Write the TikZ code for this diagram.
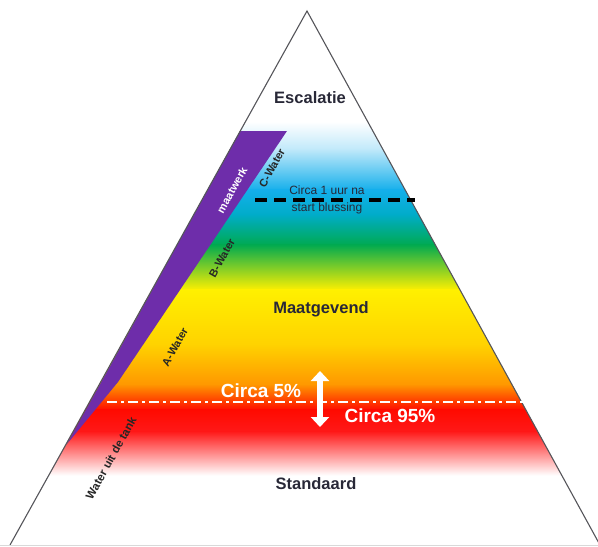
\documentclass[tikz,border=0pt]{standalone}
\usepackage{fontspec}
\setmainfont{Liberation Sans}
\usepackage{tikz}
\usetikzlibrary{arrows.meta,positioning}
\definecolor{pyrline}{RGB}{85,85,90}
\definecolor{pyrtext}{RGB}{40,40,55}
\definecolor{pyrpurple}{RGB}{110,45,170}
\definecolor{lichtblauw}{RGB}{190,232,250}
\definecolor{hemelblauw}{RGB}{20,175,235}
\definecolor{blauwgroen}{RGB}{0,172,200}
\definecolor{groen}{RGB}{0,170,80}
\definecolor{geel}{RGB}{255,240,0}
\definecolor{donkergeel}{RGB}{255,210,0}
\definecolor{oranje}{RGB}{255,150,0}
\definecolor{rood}{RGB}{255,10,0}
\definecolor{rood2}{RGB}{255,25,25}
\tikzset{
  laag/.style={font=\bfseries\fontsize{16.5}{18}\selectfont,text=pyrtext},
  waterlbl/.style={font=\bfseries\fontsize{11}{12}\selectfont,rotate=61,text=black!85},
  pct/.style={font=\bfseries\fontsize{19}{21}\selectfont,text=white},
  klein/.style={font=\fontsize{12}{13}\selectfont,text=pyrtext,inner sep=0pt}
}

\begin{document}
\begin{tikzpicture}[x=1pt,y=-1pt,>=Stealth]
  \useasboundingbox (0,0) rectangle (598,547);
  \coordinate (top) at (307,11);
  \coordinate (bl) at (10,545);
  \coordinate (br) at (600,545);
  % kleurverloop in de piramide
  \begin{scope}
    \clip (top)--(bl)--(br)--cycle;
    \foreach \ya/\yb/\ca/\cb in {122/150/white/lichtblauw,150/190/lichtblauw/hemelblauw,
        190/215/hemelblauw/blauwgroen,215/245/blauwgroen/groen,245/290/groen/geel,
        290/345/geel/donkergeel,345/385/donkergeel/oranje,385/410/oranje/rood,
        410/432/rood/rood2,432/475/rood2/white}
      \shade[top color=\ca,bottom color=\cb] (0,\ya-0.5) rectangle (598,\yb+0.5);
  \end{scope}
  % maatwerk strook
  \fill[pyrpurple] (240,131) -- (287,131) -- (118,382) -- (67,444) -- cycle;
  \draw[pyrline,line width=1.1pt] (bl) -- (top) -- (br);
  \draw[black!15,line width=0.8pt] (0,545.5) -- (598,545.5);
  % lijnen
  \coordinate (uurL) at (255,200);
  \coordinate (uurR) at (415,200);
  \draw[black,line width=3.8pt,dash pattern=on 12pt off 7pt] (uurL) -- (uurR);
  \coordinate (grensL) at (107,402);
  \coordinate (grensR) at (523,402);
  \draw[white,line width=2.2pt,dash pattern=on 10pt off 4pt on 3pt off 4pt] (grensL) -- (grensR);
  \coordinate (pijlboven) at (320,371);
  \coordinate (pijlonder) at (320,427);
  \draw[white,line width=6.5pt,{Triangle[width=18pt,length=10pt]}-{Triangle[width=18pt,length=10pt]}] (pijlboven) -- (pijlonder);
  % teksten
  \node[laag] (escalatie) at (310,98) {Escalatie};
  \node[laag] (maatgevend) at (321,309) {Maatgevend};
  \node[laag] (standaard) at (316,484) {Standaard};
  \node[klein] (uur) at (327,190) {Circa 1 uur na};
  \node[klein,below=8pt of uur] (blussing) {start blussing};
  \node[pct] (vijf) at (261,391) {Circa 5\%};
  \node[pct] (negentig) at (390,416) {Circa 95\%};
  \node[waterlbl,text=white] (maatwerk) at (232,190) {maatwerk};
  \node[waterlbl] (cwater) at (272,168) {C-Water};
  \node[waterlbl] (bwater) at (222,258) {B-Water};
  \node[waterlbl] (awater) at (175,347) {A-Water};
  \node[waterlbl,font=\bfseries\fontsize{11.5}{12}\selectfont] (tank) at (111,458) {Water uit de tank};
\end{tikzpicture}
\end{document}
